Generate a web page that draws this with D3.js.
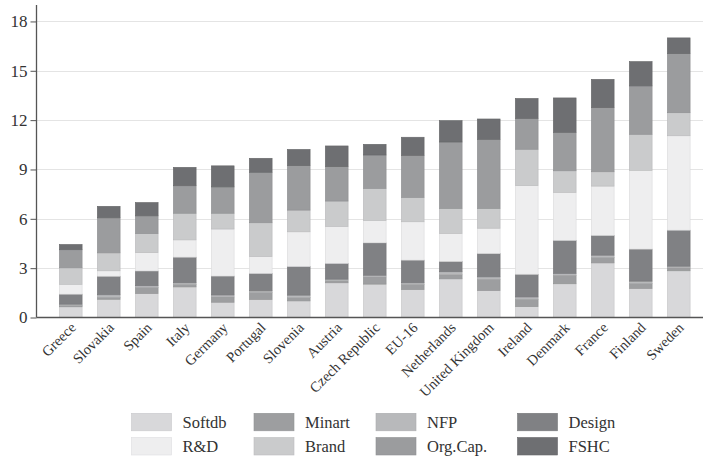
<!DOCTYPE html>
<html>
<head>
<meta charset="utf-8">
<script src="https://cdn.jsdelivr.net/npm/d3@7"></script>
<style>
  html, body { margin: 0; padding: 0; background: #fff; }
  svg { display: block; }
  text { font-family: "Liberation Serif", "Times New Roman", serif; fill: #333; }
</style>
</head>
<body>
<svg id="chart" width="703" height="460"></svg>
<script>
const categories = ["Greece","Slovakia","Spain","Italy","Germany","Portugal","Slovenia","Austria","Czech Republic","EU-16","Netherlands","United Kingdom","Ireland","Denmark","France","Finland","Sweden"];

// series in stacking order (bottom to top)
const softdb  = [0.65, 1.11, 1.46, 1.86, 0.93, 1.10, 1.01, 2.11, 2.03, 1.70, 2.35, 1.64, 0.66, 2.05, 3.32, 1.77, 2.84];
const minart  = [0.08, 0.12, 0.37, 0.15, 0.32, 0.42, 0.20, 0.12, 0.44, 0.31, 0.25, 0.69, 0.45, 0.52, 0.33, 0.30, 0.18];
const nfp     = [0.08, 0.15, 0.10, 0.10, 0.12, 0.10, 0.15, 0.10, 0.10, 0.10, 0.18, 0.14, 0.14, 0.11, 0.14, 0.14, 0.10];
const design  = [0.61, 1.13, 0.90, 1.56, 1.15, 1.06, 1.74, 0.96, 1.97, 1.38, 0.63, 1.42, 1.38, 2.01, 1.20, 1.95, 2.19];
const rnd     = [0.60, 0.33, 1.11, 1.05, 2.86, 1.03, 2.11, 2.25, 1.36, 2.33, 1.70, 1.54, 5.39, 2.92, 3.00, 4.79, 5.74];
const brand   = [1.00, 1.09, 1.16, 1.62, 0.96, 2.05, 1.32, 1.54, 1.95, 1.48, 1.52, 1.20, 2.21, 1.31, 0.87, 2.19, 1.40];
const orgcap  = [1.10, 2.13, 1.08, 1.67, 1.60, 3.07, 2.70, 2.09, 2.03, 2.56, 4.04, 4.20, 1.87, 2.34, 3.90, 2.94, 3.59];
const fshc    = [0.32, 0.70, 0.81, 1.12, 1.28, 0.85, 0.99, 1.26, 0.65, 1.10, 1.30, 1.24, 1.22, 2.09, 1.72, 1.48, 0.96];

const seriesKeys   = ["Softdb","Minart","NFP","Design","R&D","Brand","Org.Cap.","FSHC"];
const seriesValues = [softdb, minart, nfp, design, rnd, brand, orgcap, fshc];
const yTicks = [0, 3, 6, 9, 12, 15, 18];

// legend order (column-wise display, 4 columns x 2 rows)
const legendRows = [["Softdb","Minart","NFP","Design"],["R&D","Brand","Org.Cap.","FSHC"]];

const colors = {
  "Softdb":   "#d8d8da",
  "R&D":      "#eeeeef",
  "Minart":   "#9d9ea0",
  "Brand":    "#cacbcc",
  "NFP":      "#b8b9bb",
  "Org.Cap.": "#9b9c9e",
  "Design":   "#808184",
  "FSHC":     "#6e6f72"
};

const table = categories.map((c, i) => {
  const row = { country: c };
  seriesKeys.forEach((k, j) => { row[k] = seriesValues[j][i]; });
  return row;
});

const svg = d3.select("#chart");
const x0 = 36.5, xRight = 703, yBottom = 317.5, yTop = 5;

const x = d3.scaleBand().domain(categories).range([51.7, 697.7]).paddingInner(0.4).paddingOuter(0.2);
const y = d3.scaleLinear().domain([0, 19]).range([yBottom, yTop]);

// gridlines
svg.append("g").selectAll("line").data(yTicks.filter(t => t > 0)).join("line")
  .attr("x1", x0).attr("x2", xRight)
  .attr("y1", d => Math.round(y(d)) + 0.5).attr("y2", d => Math.round(y(d)) + 0.5)
  .attr("stroke", "#e4e4e4").attr("stroke-width", 1);

// bars
const stack = d3.stack().keys(seriesKeys)(table);
svg.append("g").selectAll("g").data(stack).join("g")
  .attr("fill", d => colors[d.key])
  .attr("stroke", d => d3.color(colors[d.key]).darker(0.25))
  .attr("stroke-width", 0.6)
  .selectAll("rect").data(d => d).join("rect")
  .attr("x", d => x(d.data.country))
  .attr("width", x.bandwidth())
  .attr("y", d => y(d[1]))
  .attr("height", d => Math.max(0, y(d[0]) - y(d[1])));

// y axis
const yAxis = svg.append("g").attr("transform", `translate(${x0},0)`)
  .call(d3.axisLeft(y).tickValues(yTicks).tickSize(6).tickPadding(3).tickFormat(d3.format("d")));
yAxis.select(".domain").remove();
yAxis.selectAll(".tick line").attr("stroke", "#555");
yAxis.selectAll(".tick text").attr("font-size", "17px").attr("fill", "#333")
  .attr("font-family", "Liberation Serif, serif");
svg.append("line").attr("x1", x0).attr("x2", x0).attr("y1", yTop).attr("y2", yBottom)
  .attr("stroke", "#555").attr("stroke-width", 1.3);

// x axis
const xAxis = svg.append("g").attr("transform", `translate(0,${yBottom})`)
  .call(d3.axisBottom(x).tickSize(0).tickPadding(0));
xAxis.select(".domain").remove();
xAxis.selectAll(".tick text")
  .attr("font-size", "14.5px").attr("fill", "#333")
  .attr("font-family", "Liberation Serif, serif")
  .attr("text-anchor", "end")
  .attr("dy", null).attr("y", null)
  .attr("transform", "translate(6,11) rotate(-45)");
svg.append("line").attr("x1", x0).attr("x2", xRight).attr("y1", yBottom).attr("y2", yBottom)
  .attr("stroke", "#555").attr("stroke-width", 1.3);

// legend
const colX = [131.5, 254, 376, 517.5];
const rowY = [413.3, 437.5];
const leg = svg.append("g");
legendRows.forEach((row, r) => {
  row.forEach((k, c) => {
    leg.append("rect").attr("x", colX[c]).attr("y", rowY[r]).attr("width", 40).attr("height", 17.5)
      .attr("fill", colors[k]).attr("stroke", d3.color(colors[k]).darker(0.2)).attr("stroke-width", 0.6);
    leg.append("text").attr("x", colX[c] + 51).attr("y", rowY[r] + 14.5)
      .attr("font-size", "16.5px").attr("fill", "#333").text(k);
  });
});
</script>
</body>
</html>
